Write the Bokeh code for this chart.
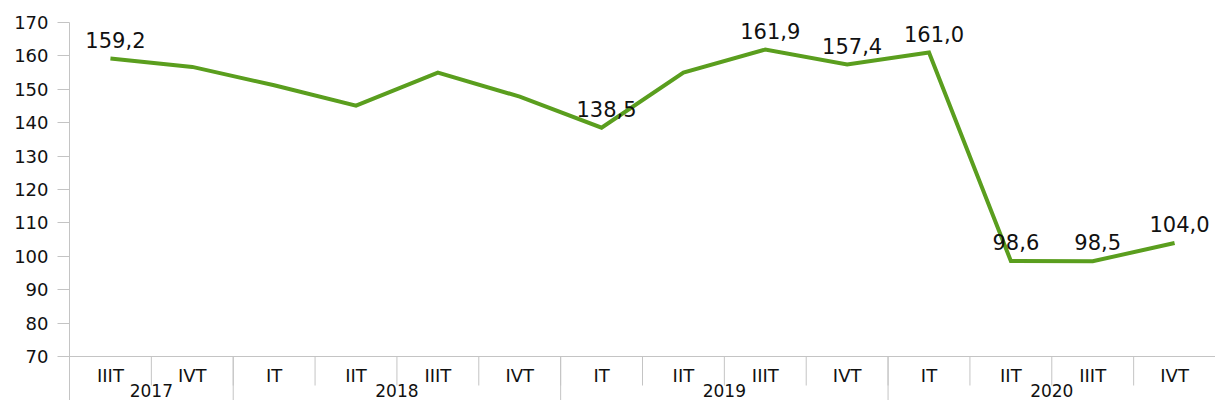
import math
from bokeh.plotting import figure
from bokeh.models import Range1d, FixedTicker, ColumnDataSource
from bokeh.core.properties import value
from bokeh.embed import file_html
from bokeh.resources import INLINE

# ---- data ----
quarters = ["IIIT", "IVT", "IT", "IIT", "IIIT", "IVT", "IT", "IIT", "IIIT", "IVT", "IT", "IIT", "IIIT", "IVT"]
year_labels = ["2017", "2018", "2019", "2020"]
quarters_per_year = [2, 4, 4, 4]
values = [159.2, 156.7, 151.2, 145.1, 155.0, 147.8, 138.5, 155.0, 161.9, 157.4, 161.0, 98.6, 98.5, 104.0]
point_labels = ["159,2", "", "", "", "", "", "138,5", "", "161,9", "157,4", "161,0", "98,6", "98,5", "104,0"]
y_ticks = [70, 80, 90, 100, 110, 120, 130, 140, 150, 160, 170]

# ---- layout ----
W, H = 1215, 400
TOP = 22
LEFT = 69
AXIS_PX = 334  # pixels between lowest and highest y tick
y_lo, y_hi = y_ticks[0], y_ticks[-1]
frame_h = H - TOP
y_start = y_hi - (y_hi - y_lo) * frame_h / AXIS_PX

n = len(quarters)
xs = [i + 0.5 for i in range(n)]

p = figure(width=W, height=H, output_backend="svg", toolbar_location=None,
           x_range=Range1d(0, n), y_range=Range1d(y_start, y_hi),
           min_border_left=LEFT, min_border_right=0, min_border_top=TOP, min_border_bottom=0,
           x_axis_location=None)
p.outline_line_color = None
p.background_fill_color = "white"
p.border_fill_color = "white"

GRAY = "#c4c4c4"
FONT = "DejaVu Sans"

# y axis
ax = p.yaxis[0]
ax.ticker = FixedTicker(ticks=y_ticks)
ax.axis_line_color = GRAY
ax.major_tick_line_color = GRAY
ax.major_tick_out = 12
ax.major_tick_in = 0
ax.minor_tick_line_color = None
ax.major_label_standoff = 9
ax.major_label_text_font = FONT
ax.major_label_text_font_size = "18px"
ax.major_label_text_color = "#111111"

p.xgrid.visible = False
p.ygrid.ticker = FixedTicker(ticks=[y_lo, y_hi])
p.ygrid.grid_line_color = GRAY
p.ygrid.grid_line_width = 1

# category separators
bounds = list(range(1, n))
year_bounds = []
acc = 0
for q in quarters_per_year[:-1]:
    acc += q
    year_bounds.append(acc)
p.ray(x=bounds, y=[y_lo] * len(bounds), length=29, length_units="screen",
      angle=-math.pi / 2, line_color=GRAY, line_width=1)
p.ray(x=year_bounds, y=[y_lo] * len(year_bounds), length=80, length_units="screen",
      angle=-math.pi / 2, line_color=GRAY, line_width=1)

# quarter labels
p.text(x=xs, y=[y_lo] * n, text=quarters, text_align="center", text_baseline="middle",
       y_offset=19, text_font=value(FONT), text_font_size="18px", text_color="#111111")

# year labels
year_centers = []
acc = 0
for q in quarters_per_year:
    year_centers.append(acc + q / 2)
    acc += q
p.text(x=year_centers, y=[y_lo] * len(year_centers), text=year_labels, text_align="center",
       text_baseline="top", y_offset=27, text_font=value(FONT), text_font_size="17px",
       text_color="#111111")

# line
src = ColumnDataSource(dict(x=xs, y=values, lab=point_labels))
p.line("x", "y", source=src, line_color="#5a9e1e", line_width=4, line_join="miter")

# data labels
p.text("x", "y", text="lab", source=src, text_align="center", text_baseline="bottom",
       x_offset=5, y_offset=-11, text_font=value(FONT), text_font_size="21px",
       text_color="#111111")

open("out.html", "w").write(file_html(p, INLINE))
